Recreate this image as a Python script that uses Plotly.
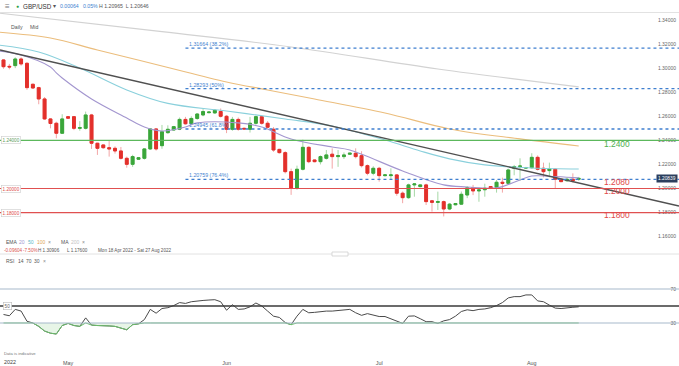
import plotly.graph_objects as go
import pandas as pd

W, H = 679, 366

# ---------------- data ----------------
dates = [d.strftime("%Y-%m-%d") for d in pd.date_range("2022-04-18", "2022-08-10") if d.weekday() != 5]

opens = [1.3068, 1.3015, 1.3021, 1.3076, 1.3040, 1.2866, 1.2838, 1.2744, 1.2578, 1.2542, 1.2459,
         1.2597, 1.2597, 1.2500, 1.2500, 1.2611, 1.2376, 1.2362, 1.2339, 1.2334, 1.2312, 1.2251,
         1.2201, 1.2243, 1.2251, 1.2329, 1.2495, 1.2356, 1.2464, 1.2486, 1.2493, 1.2574, 1.2538,
         1.2582, 1.2611, 1.2630, 1.2628, 1.2640, 1.2600, 1.2492, 1.2574, 1.2500, 1.2492, 1.2542,
         1.2597, 1.2542, 1.2492, 1.2325, 1.2298, 1.2140, 1.2002, 1.2160, 1.2342, 1.2237, 1.2223,
         1.2251, 1.2285, 1.2265, 1.2265, 1.2285, 1.2293, 1.2273, 1.2190, 1.2127, 1.2168, 1.2107,
         1.2107, 1.2113, 1.1961, 1.1924, 1.2030, 1.2016, 1.2030, 1.1898, 1.1885, 1.1891, 1.1830,
         1.1865, 1.1870, 1.1946, 1.2007, 1.1980, 1.1990, 1.2016, 1.2010, 1.2052, 1.2043, 1.2168,
         1.2182, 1.2170, 1.2173, 1.2259, 1.2168, 1.2149, 1.2160, 1.2077, 1.2065, 1.2077, 1.2077]
highs = [1.3075, 1.3035, 1.3090, 1.3090, 1.3050, 1.2870, 1.2845, 1.2760, 1.2585, 1.2555, 1.2617,
         1.2600, 1.2600, 1.2560, 1.2639, 1.2620, 1.2380, 1.2365, 1.2403, 1.2350, 1.2345, 1.2265,
         1.2280, 1.2262, 1.2335, 1.2500, 1.2500, 1.2528, 1.2525, 1.2520, 1.2590, 1.2595, 1.2600,
         1.2625, 1.2660, 1.2640, 1.2660, 1.2665, 1.2610, 1.2595, 1.2590, 1.2505, 1.2595, 1.2605,
         1.2605, 1.2560, 1.2510, 1.2330, 1.2310, 1.2165, 1.2190, 1.2406, 1.2350, 1.2240, 1.2275,
         1.2320, 1.2334, 1.2320, 1.2300, 1.2295, 1.2334, 1.2310, 1.2200, 1.2185, 1.2180, 1.2115,
         1.2168, 1.2120, 1.1975, 1.2040, 1.2045, 1.2035, 1.2040, 1.1905, 1.1974, 1.1900, 1.1880,
         1.1880, 1.1975, 1.2020, 1.2030, 1.2010, 1.2040, 1.2020, 1.2071, 1.2090, 1.2165, 1.2196,
         1.2251, 1.2180, 1.2293, 1.2275, 1.2215, 1.2215, 1.2165, 1.2080, 1.2090, 1.2126, 1.20965]
lows = [1.2995, 1.2990, 1.3000, 1.3020, 1.2820, 1.2828, 1.2700, 1.2570, 1.2500, 1.2417, 1.2455,
        1.2580, 1.2485, 1.2480, 1.2490, 1.2329, 1.2279, 1.2330, 1.2265, 1.2290, 1.2240, 1.2173,
        1.2180, 1.2238, 1.2240, 1.2320, 1.2315, 1.2330, 1.2455, 1.2480, 1.2485, 1.2530, 1.2530,
        1.2570, 1.2600, 1.2625, 1.2620, 1.2590, 1.2460, 1.2480, 1.2480, 1.2490, 1.2465, 1.2530,
        1.2530, 1.2500, 1.2305, 1.2290, 1.2125, 1.1947, 1.1990, 1.2150, 1.2210, 1.2218, 1.2200,
        1.2240, 1.2165, 1.2180, 1.2245, 1.2280, 1.2250, 1.2175, 1.2110, 1.2110, 1.2057, 1.2100,
        1.2071, 1.1940, 1.1878, 1.1915, 1.1932, 1.2010, 1.1863, 1.1808, 1.1822, 1.1768, 1.1820,
        1.1860, 1.1865, 1.1920, 1.1945, 1.1890, 1.1932, 1.1995, 1.1966, 1.1966, 1.2030, 1.2110,
        1.2064, 1.2165, 1.2165, 1.2150, 1.2093, 1.2093, 1.2002, 1.2055, 1.2055, 1.2050, 1.20646]
closes = [1.3012, 1.3010, 1.3076, 1.3035, 1.2838, 1.2835, 1.2744, 1.2578, 1.2540, 1.2459, 1.2578,
          1.2584, 1.2500, 1.2506, 1.2611, 1.2376, 1.2334, 1.2339, 1.2329, 1.2312, 1.2251, 1.2201,
          1.2265, 1.2256, 1.2329, 1.2495, 1.2329, 1.2472, 1.2492, 1.2514, 1.2574, 1.2538, 1.2582,
          1.2619, 1.2639, 1.2635, 1.2650, 1.2600, 1.2492, 1.2574, 1.2492, 1.2495, 1.2542, 1.2597,
          1.2542, 1.2509, 1.2320, 1.2298, 1.2140, 1.2002, 1.2160, 1.2342, 1.2223, 1.2223, 1.2265,
          1.2279, 1.2265, 1.2273, 1.2279, 1.2293, 1.2265, 1.2190, 1.2127, 1.2168, 1.2107, 1.2113,
          1.2113, 1.1961, 1.1924, 1.2030, 1.2038, 1.2030, 1.1891, 1.1885, 1.1891, 1.1830, 1.1870,
          1.1875, 1.1952, 1.2007, 1.1980, 1.1988, 1.2002, 1.2002, 1.2052, 1.2043, 1.2154, 1.2182,
          1.2187, 1.2173, 1.2259, 1.2160, 1.2140, 1.2163, 1.2077, 1.2057, 1.2077, 1.2065, 1.20839]

rsi = [40, 38.5, 46, 44, 32, 30, 26, 20.5, 18, 17,
       27, 29.5, 27, 26, 36, 27.5, 27, 27, 26.5, 26,
       24, 22, 28, 29, 34, 46, 41.5, 47, 48, 50.5,
       54, 53, 55, 56, 56.5, 57, 57.4, 55, 45, 51.5,
       46, 46.5, 49, 53.5, 50, 44, 38, 36.5, 30.5, 28,
       38, 46, 42, 42.5, 43.5, 44, 44, 44.5, 45, 46,
       42, 39, 41, 39.5, 37.6, 37.6, 35, 31.5, 29.5, 38,
       38.3, 35, 31.5, 31.5, 29.5, 32.5, 34, 38, 43.5, 45.5,
       44.5, 46, 46.5, 48, 50.5, 54, 59.5, 61, 61, 63,
       63, 56, 55, 51, 47.5, 47, 48, 48.5, 49]

ema20_dates = ["2022-04-17", "2022-04-21", "2022-04-27", "2022-04-28", "2022-04-29", "2022-05-05",
               "2022-05-12", "2022-05-16", "2022-05-19", "2022-05-24", "2022-05-26", "2022-06-03",
               "2022-06-08", "2022-06-14", "2022-06-22", "2022-06-26", "2022-07-06", "2022-07-14",
               "2022-07-19", "2022-07-25", "2022-07-29", "2022-08-01", "2022-08-03", "2022-08-10"]
ema20 = [1.3143, 1.3109, 1.3010, 1.2960, 1.2918, 1.2744, 1.2586, 1.2511, 1.2478, 1.2511, 1.2545, 1.2545,
         1.2511, 1.2412, 1.2345, 1.2320, 1.2146, 1.2030, 1.2013, 1.2005, 1.2071, 1.2104, 1.2104, 1.2088]

ema50_dates = ["2022-04-17", "2022-04-25", "2022-05-03", "2022-05-12", "2022-05-20", "2022-06-01",
               "2022-06-13", "2022-06-22", "2022-07-03", "2022-07-10", "2022-07-15", "2022-07-22",
               "2022-08-01", "2022-08-10"]
ema50 = [1.3192, 1.3134, 1.3001, 1.2819, 1.2707, 1.2644, 1.2578, 1.2520, 1.2403, 1.2312, 1.2246, 1.2196,
         1.2171, 1.2162]

ema100_dates = ["2022-04-17", "2022-04-27", "2022-05-06", "2022-05-19", "2022-06-01", "2022-06-09",
                "2022-06-19", "2022-07-03", "2022-07-15", "2022-07-29", "2022-08-10"]
ema100 = [1.3300, 1.3250, 1.3151, 1.3018, 1.2885, 1.2819, 1.2744, 1.2628, 1.2495, 1.2412, 1.2353]

ma200_dates = ["2022-04-17", "2022-05-19", "2022-06-14", "2022-07-13", "2022-08-10"]
ma200 = [1.3458, 1.3303, 1.3176, 1.2993, 1.2844]

x_left, x_right = "2022-04-17 09:41", "2022-08-30 02:00"
trend_x = [x_left, x_right]
trend_y = [1.3151, 1.1855]

fib_start = "2022-05-24"
fib_levels = [1.31664, 1.28293, 1.24945, 1.20759]
fib_labels = ["1.31664 (38.2%)", "1.28293 (50%)", "1.24945 (61.8%)", "1.20759 (76.4%)"]

green_level = 1.24
red_levels = [1.20, 1.18]
left_tags = ["1.24000", "1.20000", "1.18000"]
right_tags = ["1.2400", "1.2080", "1.2000", "1.1800"]
right_tag_prices = [1.2367, 1.2055, 1.1982, 1.1778]

price_ticks = [1.16, 1.18, 1.20, 1.22, 1.24, 1.26, 1.28, 1.30, 1.32, 1.34]
month_ticks = ["2022-05-01", "2022-06-01", "2022-07-01", "2022-08-01"]
month_labels = ["May", "Jun", "Jul", "Aug"]
last_price = 1.20839

# ---------------- styling ----------------
FONT = "Liberation Sans, Arial, sans-serif"
INC_BODY, DEC_BODY = "#3aa63a", "#e3302b"
INC_WICK, DEC_WICK = "#a6d8a6", "#f3a6a6"
C20, C50, C100, C200 = "#a396cf", "#8ad0dc", "#ebbd7c", "#d2d2d2"
FIB = "#3f7fcf"
RED = "#e04848"
GRN = "#4fb04f"


def py(ypx):
    return 1 - ypx / H


def px(xpx):
    return xpx / W


fig = go.Figure()

fig.add_trace(go.Candlestick(
    x=dates, open=opens, high=highs, low=lows, close=closes,
    increasing=dict(line=dict(color=INC_WICK, width=1), fillcolor=INC_WICK),
    decreasing=dict(line=dict(color=DEC_WICK, width=1), fillcolor=DEC_WICK),
    whiskerwidth=0, showlegend=False, hoverinfo="skip", xaxis="x", yaxis="y"))
body_hi = [max(o, c) for o, c in zip(opens, closes)]
body_lo = [min(o, c) for o, c in zip(opens, closes)]
fig.add_trace(go.Candlestick(
    x=dates, open=opens, high=body_hi, low=body_lo, close=closes,
    increasing=dict(line=dict(color=INC_BODY, width=1), fillcolor=INC_BODY),
    decreasing=dict(line=dict(color=DEC_BODY, width=1), fillcolor=DEC_BODY),
    whiskerwidth=0, showlegend=False, hoverinfo="skip", xaxis="x", yaxis="y"))

for xs, ys, col in [(ma200_dates, ma200, C200), (ema100_dates, ema100, C100),
                    (ema50_dates, ema50, C50), (ema20_dates, ema20, C20)]:
    fig.add_trace(go.Scatter(x=xs, y=ys, mode="lines", line=dict(color=col, width=1.1, shape="spline"),
                             showlegend=False, hoverinfo="skip", xaxis="x", yaxis="y"))

fig.add_trace(go.Scatter(x=trend_x, y=trend_y, mode="lines", line=dict(color="#505050", width=1.4),
                         showlegend=False, hoverinfo="skip", xaxis="x", yaxis="y"))

fig.add_trace(go.Scatter(x=dates, y=rsi, mode="lines", line=dict(color="#4a4a4a", width=1),
                         showlegend=False, hoverinfo="skip", xaxis="x2", yaxis="y2"))
fig.add_trace(go.Scatter(x=dates, y=[30] * len(dates), mode="lines", line=dict(width=0),
                         showlegend=False, hoverinfo="skip", xaxis="x2", yaxis="y2"))
fig.add_trace(go.Scatter(x=dates, y=[min(v, 30) for v in rsi], mode="lines", fill="tonexty",
                         fillcolor="rgba(120,200,120,0.18)", line=dict(color="#6cc06c", width=1),
                         showlegend=False, hoverinfo="skip", xaxis="x2", yaxis="y2"))

shapes = []
shapes.append(dict(type="line", xref="paper", x0=0, x1=1, yref="y", y0=green_level, y1=green_level,
                   line=dict(color="#5cb85c", width=1.2)))
for lv in red_levels:
    shapes.append(dict(type="line", xref="paper", x0=0, x1=1, yref="y", y0=lv, y1=lv,
                       line=dict(color="#e05050", width=1.2)))
for lv in fib_levels:
    shapes.append(dict(type="line", xref="x", x0=fib_start, x1=x_right, yref="y", y0=lv, y1=lv,
                       line=dict(color=FIB, width=1.3, dash="dot")))
shapes.append(dict(type="line", xref="paper", x0=0, x1=1, yref="y2", y0=70, y1=70,
                   line=dict(color="#a7b9cc", width=1.2), layer="above"))
shapes.append(dict(type="line", xref="paper", x0=0, x1=1, yref="y2", y0=30, y1=30,
                   line=dict(color="#a7b9cc", width=1.2), layer="above"))
shapes.append(dict(type="line", xref="paper", x0=0, x1=1, yref="y2", y0=50, y1=50,
                   line=dict(color="#3a3a3a", width=1.3)))
shapes.append(dict(type="line", xref="paper", yref="paper", x0=0, x1=1, y0=py(12.5), y1=py(12.5),
                   line=dict(color="#e2e2e2", width=1)))
shapes.append(dict(type="line", xref="paper", yref="paper", x0=0, x1=1, y0=py(254), y1=py(254),
                   line=dict(color="#e2e2e2", width=1)))
shapes.append(dict(type="rect", xref="paper", yref="paper", x0=px(332), x1=px(348), y0=py(256), y1=py(252),
                   line=dict(color="#cfcfcf", width=0.8), fillcolor="white"))

ann = []


def txt(x, y, s, size=5.2, color="#555", xanchor="left", **kw):
    ann.append(dict(xref="paper", yref="paper", x=px(x), y=py(y), text=s, showarrow=False,
                    xanchor=xanchor, yanchor="middle", font=dict(family=FONT, size=size, color=color), **kw))


txt(3, 6.5, "≡", size=8, color="#777")
txt(14, 6.5, "●", size=5, color="#2ea043")
txt(21, 6.5, "GBP/USD", size=6.3, color="#333")
txt(51, 6.5, "▾", size=6, color="#555")
txt(58, 6.5, "0.00064", size=5.2, color="#3d7fd0")
txt(81, 6.5, "0.05%", size=5.2, color="#3d7fd0")
txt(97, 6.5, "H 1.20965  L 1.20646", size=5.2, color="#555")
txt(9, 27, "Daily", size=5.2, color="#555")
txt(28, 27, "Mid", size=5.2, color="#555")

txt(4, 241.5, "EMA", size=5, color="#555")
txt(17, 241.5, "20", size=5, color=C20)
txt(26, 241.5, "50", size=5, color="#5bb8c8")
txt(35, 241.5, "100", size=5, color="#e0a554")
txt(46, 241.5, "×", size=5, color="#888")
txt(59, 241.5, "MA", size=5, color="#555")
txt(69, 241.5, "200", size=5, color="#c4c4c4")
txt(80, 241.5, "×", size=5, color="#888")
txt(2, 250.5, "-0.09604", size=4.6, color="#d9534f")
txt(21, 250.5, "-7.50%", size=4.6, color="#d9534f")
txt(36, 250.5, "H 1.30906", size=4.6, color="#555")
txt(65, 250.5, "L 1.17600", size=4.6, color="#555")
txt(96, 250.5, "Mon 18 Apr 2022 - Sat 27 Aug 2022", size=4.6, color="#555")
txt(4, 261, "RSI", size=5, color="#555")
txt(16, 261, "14", size=5, color="#555")
txt(24, 261, "70", size=5, color="#555")
txt(32, 261, "30", size=5, color="#555")
txt(41, 261, "×", size=5, color="#888")
txt(2, 353, "Data is indicative", size=4.2, color="#777")
txt(2, 362, "2022", size=5.4, color="#444")

txt(3, 306, "50", size=4.6, color="#666", bgcolor="white", bordercolor="#bbbbbb", borderwidth=0.6, borderpad=1)

for lv, s in zip(fib_levels, fib_labels):
    ann.append(dict(xref="x", yref="y", x=fib_start, y=lv, text=s, showarrow=False, xanchor="left",
                    yanchor="bottom", xshift=2, yshift=-1, font=dict(family=FONT, size=5.3, color=FIB)))
for lv, s, col in zip([green_level] + red_levels, left_tags, ["#5a9a5a", RED, RED]):
    ann.append(dict(xref="paper", yref="y", x=px(1), y=lv, text=s, showarrow=False, xanchor="left",
                    yanchor="middle", bgcolor="white", bordercolor="#cccccc", borderwidth=0.6, borderpad=1,
                    font=dict(family=FONT, size=4.6, color=col)))
for s, p, col in zip(right_tags, right_tag_prices, [GRN, RED, RED, RED]):
    ann.append(dict(xref="paper", yref="y", x=px(603), y=p, text=s, showarrow=False, xanchor="left",
                    yanchor="middle", borderpad=0, font=dict(family=FONT, size=8.4, color=col)))
ann.append(dict(xref="paper", yref="y", x=px(678), y=last_price, text="1.20839", showarrow=False,
                xanchor="right", yanchor="middle", bgcolor="#2b3f5e", borderpad=1,
                font=dict(family=FONT, size=4.8, color="white")))

rb = [dict(bounds=["sat", "sun"])]
fig.update_layout(
    width=W, height=H, margin=dict(l=0, r=0, t=0, b=0),
    paper_bgcolor="white", plot_bgcolor="white", showlegend=False,
    font=dict(family=FONT, size=5.5, color="#555"),
    xaxis=dict(domain=[0, 1], anchor="y", range=[x_left, x_right], rangebreaks=rb,
               showticklabels=False, showgrid=False, zeroline=False, showline=False,
               rangeslider=dict(visible=False)),
    yaxis=dict(domain=[py(254), py(13)], range=[1.1456, 1.3458], side="right", anchor="x",
               ticklabelposition="inside", tickvals=price_ticks, tickformat=".5f",
               tickfont=dict(size=5, color="#666"), showgrid=False, zeroline=False, showline=False, ticks=""),
    xaxis2=dict(domain=[0, 1], anchor="y2", range=[x_left, x_right], rangebreaks=rb,
                tickvals=month_ticks, ticktext=month_labels, tickfont=dict(size=5.4, color="#555"),
                ticklabelstandoff=5,
                showgrid=False, zeroline=False, showline=False, ticks=""),
    yaxis2=dict(domain=[py(354), py(256)], range=[-6.5, 108.8], side="right", anchor="x2",
                ticklabelposition="inside", tickvals=[30, 70], tickfont=dict(size=5, color="#666"),
                showgrid=False, zeroline=False, showline=False, ticks=""),
    shapes=shapes, annotations=ann,
)

fig.write_html("out.html", config={"displayModeBar": False},
               post_script="document.body.style.margin='0';document.body.style.overflow='hidden';")
